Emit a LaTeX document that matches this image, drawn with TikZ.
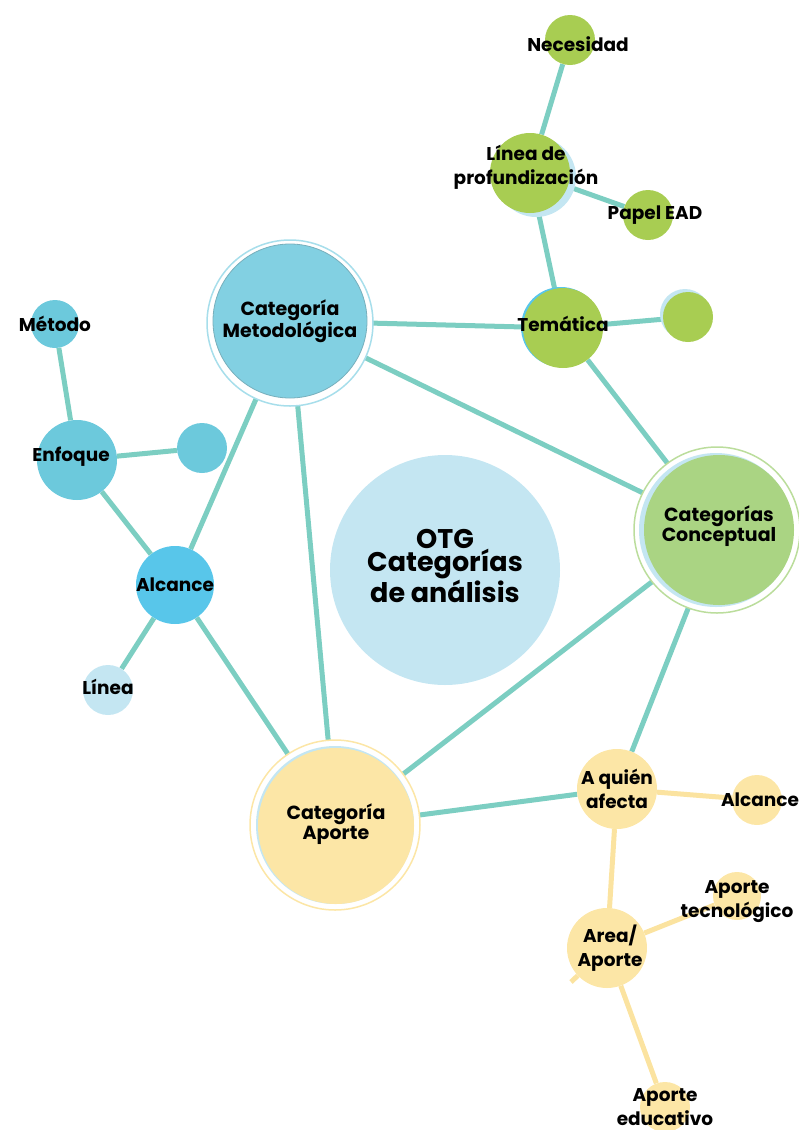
\documentclass[tikz,border=0pt]{standalone}
\usepackage{fontspec}
\setmainfont{Poppins}
\usetikzlibrary{backgrounds,positioning}
\definecolor{linkcol}{HTML}{7CCEC2}
\definecolor{yelline}{HTML}{FBE3A0}
\definecolor{bluemet}{HTML}{82D0E2}
\definecolor{bluemid}{HTML}{6CC9DC}
\definecolor{bluestr}{HTML}{58C6EA}
\definecolor{bluelt}{HTML}{C4E6F2}
\definecolor{grn}{HTML}{A8CD52}
\definecolor{grnlt}{HTML}{AAD483}
\definecolor{yel}{HTML}{FCE6A6}
\tikzset{
bub/.style={
  circle,
  inner sep=0pt,
  minimum size=#1,
  },
every label/.style={
  font=\fontsize{18.5}{24}\selectfont\bfseries,
  inner sep=0pt,
  },
biglabel/.style={
  align=center,
  font=\fontsize{19}{16}\selectfont\bfseries,
  }
}
\tikzset{
ring/.style={
  circle,
  inner sep=0pt,
  minimum size=#1,
  fill=white,
  line width=1.5pt,
  }
}
\tikzset{
conn/.style={
  line width=5pt,
  draw=linkcol,
  }
}
\tikzset{
yconn/.style={
  line width=5pt,
  draw=yelline,
  }
}

\begin{document}
\begin{tikzpicture}[x=1pt,y=-1pt]
    \useasboundingbox (0,0) rectangle (799,1130);

    % centre
    \node[bub=230, fill=bluelt, label={[align=center, font=\fontsize{27}{23}\selectfont\bfseries, yshift=4pt]center:OTG\\Categorías\\de análisis}] (otg) at (445,570) {};

    % methodological part
    \node[ring=166, draw=bluemet!70] (metring) at (290,323) {};
    \node[bub=154, fill=bluemet, draw=bluemet!80!black!90, line width=0.8pt, label={[biglabel]center:Categoría\\Metodológica}] (met) at (290,321) {};
    \node[bub=48, fill=bluemid, label={center:Método}] (metodo) at (55,324) {};
    \node[bub=80, fill=bluemid, label={[xshift=-6pt, yshift=3pt]center:Enfoque}] (enfoque) at (77,460) {};
    \node[bub=50, fill=bluemid] (enfdot) at (202,448) {};
    \node[bub=78, fill=bluestr, label={center:Alcance}] (alcb) at (175,585) {};
    \node[bub=50, fill=bluelt, label={[yshift=3pt]center:Línea}] (linea) at (108,690) {};

    % conceptual part
    \node[ring=166, draw=grnlt!80] (conring) at (717,530) {};
    \node[circle, inner sep=0pt, minimum size=154, fill=bluelt] (conrim) at (716,530) {};
    \node[bub=150, fill=grnlt, label={[biglabel, yshift=4pt]center:Categorías\\Conceptual}] (con) at (719,530) {};
    \node[circle, inner sep=0pt, minimum size=80, fill=bluestr] (temrim) at (561,327) {};
    \node[bub=80, fill=grn, label={[yshift=4pt]center:Temática}] (tem) at (563,328) {};
    \node[circle, inner sep=0pt, minimum size=50, fill=bluelt] (temdotrim) at (685,314) {};
    \node[bub=50, fill=grn] (temdot) at (688,317) {};
    \node[circle, inner sep=0pt, minimum size=80, fill=bluelt] (linrim) at (536,177) {};
    \node[bub=80, fill=grn, label={[align=center, xshift=-4pt, yshift=6pt]center:Línea de\\profundización}] (linprof) at (530,173) {};
    \node[bub=50, fill=grn, label={[xshift=8pt, yshift=-4pt]center:Necesidad}] (nec) at (570,40) {};
    \node[bub=50, fill=grn, label={[xshift=7pt]center:Papel EAD}] (papel) at (648,215) {};

    % contribution part
    \node[ring=170, draw=yel] (apring) at (335,825) {};
    \node[circle, inner sep=0pt, minimum size=158, fill=bluelt] (aprim) at (335,825) {};
    \node[bub=156, fill=yel, label={[biglabel, yshift=2pt]center:Categoría\\Aporte}] (ap) at (336,826) {};
    \node[bub=80, fill=yel, label={[align=center]center:A quién\\afecta}] (quien) at (617,789) {};
    \node[bub=50, fill=yel, label={[xshift=3pt]center:Alcance}] (alcy) at (757,800) {};
    \node[bub=48, fill=yel, label={[align=center, yshift=-6pt]center:Aporte\\tecnológico}] (tecno) at (737,896) {};
    \node[bub=80, fill=yel, label={[align=center, xshift=3pt]center:Area/\\Aporte}] (area) at (607,948) {};
    \node[bub=50, fill=yel, label={[align=center]center:Aporte\\educativo}] (edu) at (665,1107) {};
    \coordinate (areastub) at (571,982);

    \begin{scope}[on background layer]
    % methodological edges
    \draw[conn] (metodo) -- (enfoque);
    \draw[conn] (enfoque) -- (enfdot);
    \draw[conn] (enfoque) -- (alcb);
    \draw[conn] (alcb) -- (linea);
    \draw[conn] (alcb) -- (met);
    \draw[conn] (alcb) -- (ap);
    \draw[conn] (met) -- (ap);
    \draw[conn] (met) -- (con);
    \draw[conn] (met) -- (tem);

    % conceptual edges
    \draw[conn] (nec) -- (linprof);
    \draw[conn] (linprof) -- (papel);
    \draw[conn] (linprof) -- (tem);
    \draw[conn] (tem) -- (temdot);
    \draw[conn] (tem) -- (con);
    \draw[conn] (con) -- (ap);
    \draw[conn] (con) -- (quien);

    % contribution edges
    \draw[conn] (ap) -- (quien);
    \draw[yconn] (quien) -- (alcy);
    \draw[yconn] (quien) -- (area);
    \draw[yconn] (area) -- (tecno);
    \draw[yconn] (area) -- (edu);
    \draw[yconn] (area) -- (areastub);
    \end{scope}
\end{tikzpicture}
\end{document}
